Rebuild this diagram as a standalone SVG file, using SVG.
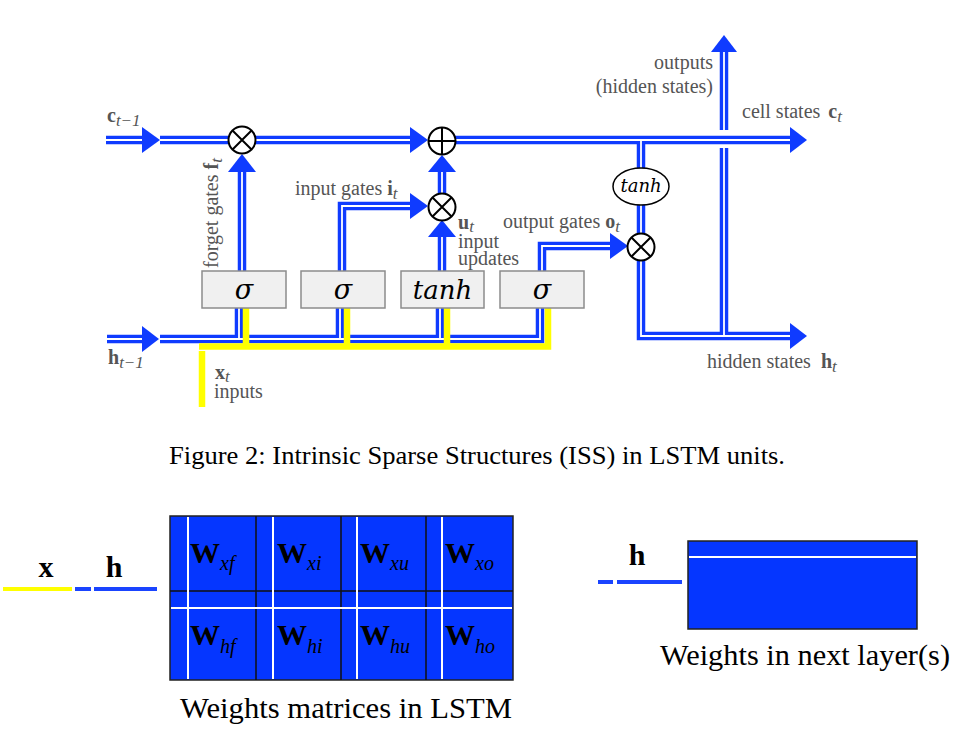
<svg xmlns="http://www.w3.org/2000/svg" xmlns:xlink="http://www.w3.org/1999/xlink" width="967" height="736" viewBox="0 0 967 736">
<style>
.b{fill:none;stroke:#0f3bff;stroke-width:8.5;stroke-linejoin:miter;stroke-linecap:butt}
.w{fill:none;stroke:#ffffff;stroke-width:1.8;stroke-linejoin:miter;stroke-linecap:butt}
.y{fill:none;stroke:#ffff00;stroke-width:6.5;stroke-linejoin:miter}
.ah{fill:#0f3bff}
.op{fill:#ffffff;stroke:#000;stroke-width:2}
.opl{stroke:#000;stroke-width:2}
.box{fill:#f0f0f0;stroke:#8c8c8c;stroke-width:1.5}
.fn{font-family:"DejaVu Serif",serif;font-style:italic;fill:#000}
.lb{font-family:"Liberation Serif","Times New Roman",serif;font-size:20px;fill:#555}
.bd{font-weight:bold}
.it{font-style:italic;font-size:17px}
.cap{font-family:"Liberation Serif","Times New Roman",serif;fill:#000}
.mat{fill:#0536ff;stroke:#222;stroke-width:1.5}
.bl{stroke:#111;stroke-width:1.5}
.wl{stroke:#fff;stroke-width:2}
</style>
<defs>
<path id="p1" d="M106,140 H143"/>
<path id="p2" d="M160,140 H229"/>
<path id="p3" d="M255,140 H411"/>
<path id="p4" d="M455,140 H791"/>
<path id="p5" d="M242,271 V171"/>
<path id="p6" d="M342,271 V206 H411"/>
<path id="p7" d="M442,271 V236"/>
<path id="p8" d="M442,194 V171"/>
<path id="p9" d="M542,271 V246 H611"/>
<path id="p10" d="M641,140 V168"/>
<path id="p11" d="M641,205 V234"/>
<path id="p12" d="M641,260 V336 H791"/>
<path id="p13" d="M724,336 V148"/>
<path id="p14" d="M724,130 V51"/>
<path id="p15" d="M107,339 H143"/>
<path id="p16" d="M160,339 H540 V308 M239,339 V308 M340,339 V308 M440,339 V308"/>
</defs>
<g id="connectors">
<use xlink:href="#p1" class="b"/><use xlink:href="#p2" class="b"/><use xlink:href="#p3" class="b"/><use xlink:href="#p4" class="b"/>
<use xlink:href="#p5" class="b"/><use xlink:href="#p6" class="b"/><use xlink:href="#p7" class="b"/><use xlink:href="#p8" class="b"/>
<use xlink:href="#p9" class="b"/><use xlink:href="#p10" class="b"/><use xlink:href="#p11" class="b"/><use xlink:href="#p12" class="b"/>
<use xlink:href="#p13" class="b"/><use xlink:href="#p14" class="b"/><use xlink:href="#p15" class="b"/><use xlink:href="#p16" class="b"/>
<use xlink:href="#p1" class="w"/><use xlink:href="#p2" class="w"/><use xlink:href="#p3" class="w"/><use xlink:href="#p4" class="w"/>
<use xlink:href="#p5" class="w"/><use xlink:href="#p6" class="w"/><use xlink:href="#p7" class="w"/><use xlink:href="#p8" class="w"/>
<use xlink:href="#p9" class="w"/><use xlink:href="#p10" class="w"/><use xlink:href="#p11" class="w"/><use xlink:href="#p12" class="w"/>
<use xlink:href="#p13" class="w"/><use xlink:href="#p14" class="w"/><use xlink:href="#p15" class="w"/><use xlink:href="#p16" class="w"/>
<polygon class="ah" points="142,127 160,140 142,153"/>
<polygon class="ah" points="410,127 428,140 410,153"/>
<polygon class="ah" points="790,127 807,140 790,153"/>
<polygon class="ah" points="228,172 242,154 256,172"/>
<polygon class="ah" points="410,193 428,206 410,219"/>
<polygon class="ah" points="428,237 442,220 456,237"/>
<polygon class="ah" points="428,172 442,155 456,172"/>
<polygon class="ah" points="610,233 628,246 610,259"/>
<polygon class="ah" points="790,323 807,336 790,349"/>
<polygon class="ah" points="711,52 724,35 737,52"/>
<polygon class="ah" points="142,326 159,339 142,352"/>
<path class="y" d="M199,346.5 H548 V308 M246,346.5 V308 M347,346.5 V308 M447,346.5 V308"/>
<path class="y" d="M202,351 V407"/>
</g>
<g id="mul-forget">
<circle class="op" cx="242" cy="140" r="13.5"/>
<path class="opl" d="M232.5,130.5 L251.5,149.5 M251.5,130.5 L232.5,149.5"/>
</g>
<g id="add-cell">
<circle class="op" cx="442" cy="141" r="13.5"/>
<path class="opl" d="M428.5,141 H455.5 M442,127.5 V154.5"/>
</g>
<g id="mul-input">
<circle class="op" cx="442" cy="207" r="13.5"/>
<path class="opl" d="M432.5,197.5 L451.5,216.5 M451.5,197.5 L432.5,216.5"/>
</g>
<g id="mul-output">
<circle class="op" cx="641" cy="247" r="13.5"/>
<path class="opl" d="M631.5,237.5 L650.5,256.5 M650.5,237.5 L631.5,256.5"/>
</g>
<g id="tanh-cell">
<ellipse cx="641" cy="186.5" rx="28" ry="18.5" fill="#fff" stroke="#000" stroke-width="1.5"/>
<text class="fn" x="641" y="192" font-size="18" text-anchor="middle">tanh</text>
</g>
<g id="gate-forget">
<rect class="box" x="202" y="271" width="84" height="37"/>
<text class="fn" x="244" y="299" font-size="27" text-anchor="middle">σ</text>
</g>
<g id="gate-input">
<rect class="box" x="301" y="271" width="84" height="37"/>
<text class="fn" x="343" y="299" font-size="27" text-anchor="middle">σ</text>
</g>
<g id="gate-update">
<rect class="box" x="401" y="271" width="83" height="37"/>
<text class="fn" x="442.5" y="299" font-size="26" text-anchor="middle">tanh</text>
</g>
<g id="gate-output">
<rect class="box" x="500" y="271" width="84" height="37"/>
<text class="fn" x="542" y="299" font-size="27" text-anchor="middle">σ</text>
</g>
<g id="labels">
<text class="lb" x="107" y="122"><tspan class="bd">c</tspan><tspan class="it" dy="4">t−1</tspan></text>
<text class="lb" x="108" y="364"><tspan class="bd">h</tspan><tspan class="it" dy="4">t−1</tspan></text>
<text class="lb" transform="translate(218,268) rotate(-90)">forget gates <tspan class="bd">f</tspan><tspan class="it" dy="4">t</tspan></text>
<text class="lb" x="295" y="195">input gates <tspan class="bd">i</tspan><tspan class="it" dy="4">t</tspan></text>
<text class="lb" x="458" y="229"><tspan class="bd">u</tspan><tspan class="it" dy="3">t</tspan></text>
<text class="lb" x="458" y="248">input</text>
<text class="lb" x="458" y="265">updates</text>
<text class="lb" x="503" y="228">output gates <tspan class="bd">o</tspan><tspan class="it" dy="4">t</tspan></text>
<text class="lb" x="713" y="69" text-anchor="end">outputs</text>
<text class="lb" x="713" y="93" text-anchor="end">(hidden states)</text>
<text class="lb" x="742" y="118">cell states <tspan class="bd" dx="3">c</tspan><tspan class="it" dy="4">t</tspan></text>
<text class="lb" x="707" y="368">hidden states <tspan class="bd" dx="5">h</tspan><tspan class="it" dy="4">t</tspan></text>
<text class="lb" x="215" y="379"><tspan class="bd">x</tspan><tspan class="it" dy="3">t</tspan></text>
<text class="lb" x="214" y="398">inputs</text>
</g>
<text class="cap" x="169" y="464" font-size="25.5" textLength="616" lengthAdjust="spacingAndGlyphs">Figure 2: Intrinsic Sparse Structures (ISS) in LSTM units.</text>
<g id="lstm-weights">
<rect class="mat" x="170" y="516" width="343" height="164"/>
<path class="bl" d="M256,516 V680 M341,516 V680 M426,516 V680 M170,591 H513"/>
<path class="wl" d="M188,517 V679 M273,517 V679 M357,517 V679 M442,517 V679 M171,608 H512"/>
<g class="cap" font-size="30">
<text x="190" y="563"><tspan font-weight="bold">W</tspan><tspan font-style="italic" font-size="20" dy="7">xf</tspan></text>
<text x="277" y="563"><tspan font-weight="bold">W</tspan><tspan font-style="italic" font-size="20" dy="7">xi</tspan></text>
<text x="360" y="563"><tspan font-weight="bold">W</tspan><tspan font-style="italic" font-size="20" dy="7">xu</tspan></text>
<text x="445" y="563"><tspan font-weight="bold">W</tspan><tspan font-style="italic" font-size="20" dy="7">xo</tspan></text>
<text x="190" y="645"><tspan font-weight="bold">W</tspan><tspan font-style="italic" font-size="20" dy="8">hf</tspan></text>
<text x="277" y="645"><tspan font-weight="bold">W</tspan><tspan font-style="italic" font-size="20" dy="8">hi</tspan></text>
<text x="360" y="645"><tspan font-weight="bold">W</tspan><tspan font-style="italic" font-size="20" dy="8">hu</tspan></text>
<text x="445" y="645"><tspan font-weight="bold">W</tspan><tspan font-style="italic" font-size="20" dy="8">ho</tspan></text>
</g>
<path d="M3,589 H72" stroke="#ffff00" stroke-width="4"/>
<path d="M75,589 H91 M94,589 H157" stroke="#1a44ff" stroke-width="4"/>
<text class="cap bd" x="46" y="577" font-size="30" text-anchor="middle">x</text>
<text class="cap bd" x="114" y="577" font-size="30" text-anchor="middle">h</text>
<text class="cap" x="180" y="718" font-size="30" textLength="332" lengthAdjust="spacingAndGlyphs">Weights matrices in LSTM</text>
</g>
<g id="next-weights">
<rect class="mat" x="688" y="541" width="229" height="88"/>
<path class="wl" d="M689,557 H916"/>
<path d="M598,582 H613 M617,582 H682" stroke="#1a44ff" stroke-width="4"/>
<text class="cap bd" x="637" y="565" font-size="30" text-anchor="middle">h</text>
<text class="cap" x="660" y="665" font-size="30" textLength="290" lengthAdjust="spacingAndGlyphs">Weights in next layer(s)</text>
</g>
</svg>
